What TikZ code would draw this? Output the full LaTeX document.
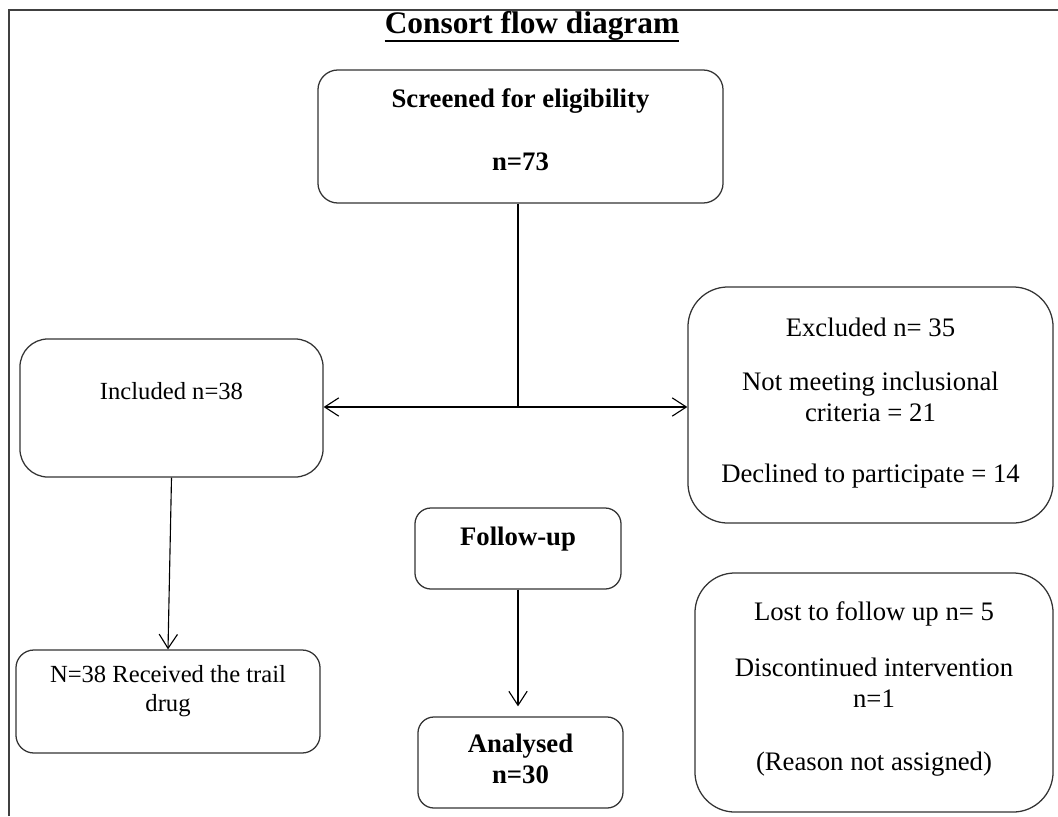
\documentclass[tikz,border=0pt]{standalone}
\usepackage{fontspec}
\setmainfont{Liberation Serif}
\usetikzlibrary{arrows.meta}

\newcommand{\rtext}{\fontsize{19}{21.8}\selectfont}
\newcommand{\ltext}{\fontsize{17.5}{20.1}\selectfont}
\newcommand{\dropby}[1]{\rule[-#1]{0pt}{#1}}

\begin{document}
\begin{tikzpicture}[
        x=0.025cm, y=-0.025cm,
        box/.style = {shape=rectangle, draw=black!80, line width=0.9pt, align=center, inner sep=0pt},
        arr/.style = {-{Straight Barb[length=10pt,width=13pt]}, line width=0.8pt}
    ]

    \useasboundingbox (0,0) rectangle (1058,816);
    \draw[gray!50!black, line width=1.4pt] (9,816) -- (9,10) -- (1058,10);

    % title
    \node[inner sep=0pt, anchor=base, font=\fontsize{22.3}{26}\selectfont\bfseries] (title) at (532,33) {Consort flow diagram};
    \draw[line width=1.5pt] ([yshift=-5.7pt]title.base west) -- ([yshift=-5.7pt]title.base east);

    % boxes
    \node[box, minimum width=10.125cm, minimum height=3.325cm, rounded corners=0.5cm, font=\rtext\bfseries] (screened) at (520.5,136.5)
        {Screened for eligibility\\[22.8pt] n=73\dropby{10pt}};
    \node[box, minimum width=7.575cm, minimum height=3.45cm, rounded corners=0.7cm, font=\ltext] (included) at (171.5,408)
        {Included n=38\dropby{24.7pt}};
    \node[box, minimum width=9.125cm, minimum height=5.9cm, rounded corners=1cm, font=\rtext] (excluded) at (870.5,405)
        {Excluded n= 35\\[16.3pt] Not meeting inclusional\\ criteria = 21\\[22pt] Declined to participate = 14\dropby{6.3pt}};
    \node[box, minimum width=7.6cm, minimum height=2.575cm, rounded corners=0.45cm, font=\ltext] (received) at (168,701.5)
        {N=38 Received the trail\\ drug\dropby{18.4pt}};
    \node[box, minimum width=5.15cm, minimum height=2.025cm, rounded corners=0.4cm, font=\rtext\bfseries] (followup) at (518,548.5)
        {Follow-up\dropby{18pt}};
    \node[box, minimum width=5.125cm, minimum height=2.275cm, rounded corners=0.4cm, font=\rtext\bfseries] (analysed) at (520.5,762.5)
        {Analysed\\ n=30\dropby{5pt}};
    \node[box, minimum width=8.95cm, minimum height=5.975cm, rounded corners=1cm, font=\rtext] (lost) at (874,692.5)
        {Lost to follow up n= 5\\[17.7pt] Discontinued intervention\\ n=1\\[23.4pt] (Reason not assigned)\dropby{8.6pt}};

    % connectors
    \coordinate (split) at (518,407);
    \draw[line width=0.8pt] (screened.south -| split) -- (split);
    \draw[arr] (split) -- (split -| included.east);
    \draw[arr] (split) -- (split -| excluded.west);
    \draw[arr] (included.south) -- (received.north);
    \draw[arr, shorten >=0.25cm] (followup.south) -- (followup.south |- analysed.north);

\end{tikzpicture}
\end{document}
